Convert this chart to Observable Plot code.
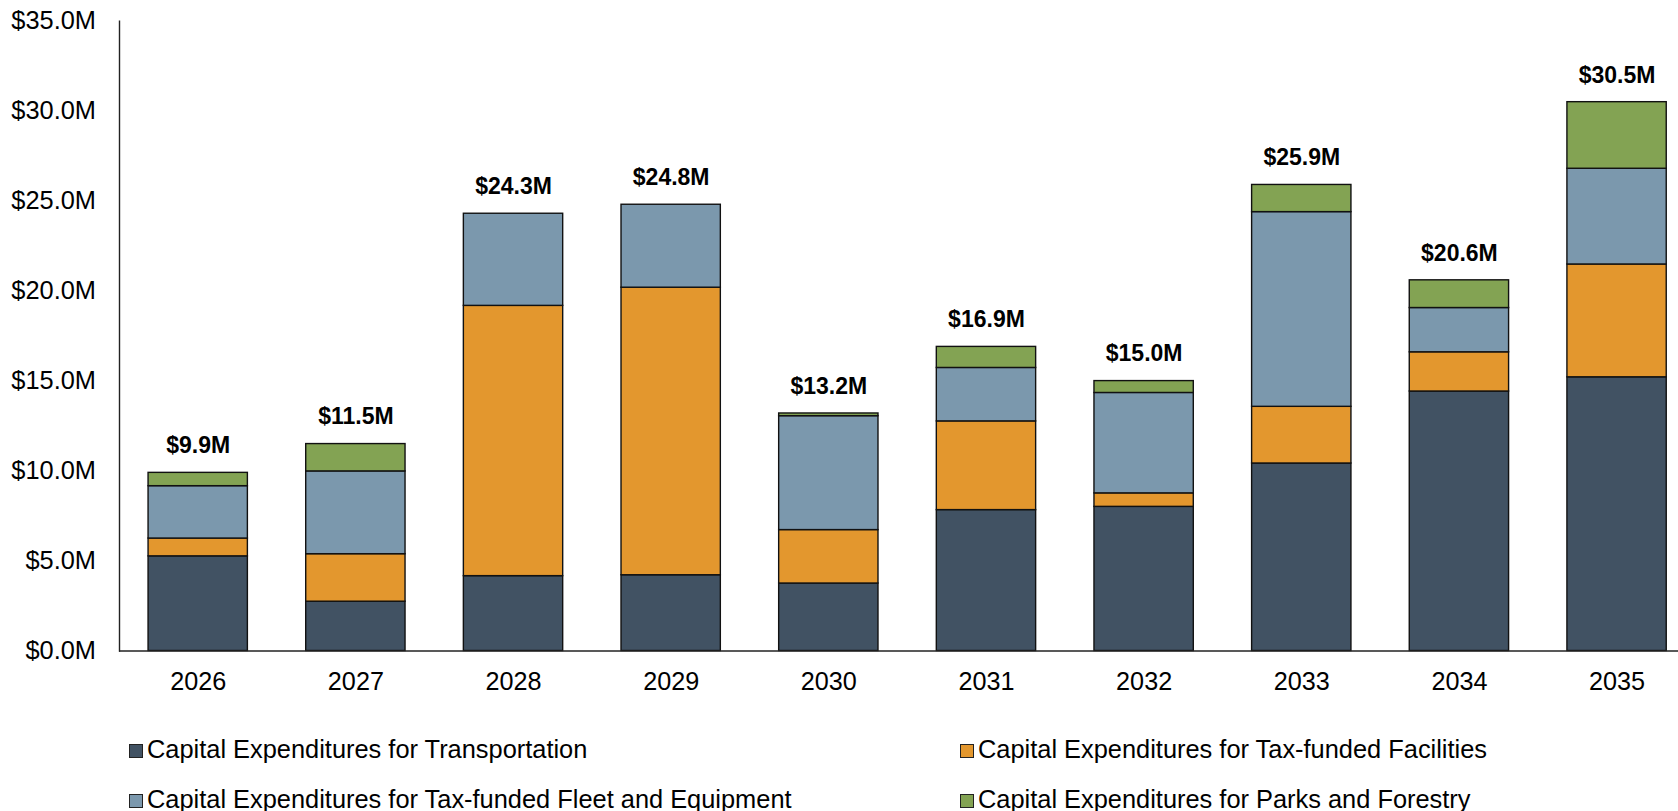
<!DOCTYPE html>
<html>
<head>
<meta charset="utf-8">
<script src="https://cdn.jsdelivr.net/npm/d3@7"></script>
<script src="https://cdn.jsdelivr.net/npm/@observablehq/plot@0.6"></script>
<style>
  html, body { margin: 0; padding: 0; background: #fff; }
  body { width: 1678px; height: 811px; overflow: hidden; font-family: Arial, "Liberation Sans", sans-serif; }
  #legend { display: grid; grid-template-columns: 831px 700px; padding-left: 129px; padding-top: 19px;
            font-size: 25.4px; line-height: 50px; color: #000; }
  #legend .item { white-space: nowrap; }
  #legend .sw { display: inline-block; width: 12px; height: 12px; border: 1px solid #222; margin-right: 4px; vertical-align: baseline; }
</style>
</head>
<body>
<div id="chart"></div>
<div id="legend"></div>
<script>
const years = ["2026","2027","2028","2029","2030","2031","2032","2033","2034","2035"];
const seriesNames = [
  "Capital Expenditures for Transportation",
  "Capital Expenditures for Tax-funded Facilities",
  "Capital Expenditures for Tax-funded Fleet and Equipment",
  "Capital Expenditures for Parks and Forestry"
];
const seriesColors = ["#415263", "#E3972E", "#7B98AD", "#83A353"];
// values in $M
const transportation = [5.26, 2.74, 4.16, 4.21, 3.75, 7.83, 8.01, 10.42, 14.42, 15.21];
const facilities     = [0.99, 2.64, 15.02, 15.98, 2.97, 4.93, 0.75, 3.15, 2.18, 6.27];
const fleet          = [2.91, 4.60, 5.12, 4.61, 6.33, 2.97, 5.58, 10.82, 2.46, 5.32];
const parks          = [0.74, 1.52, 0.00, 0.00, 0.15, 1.17, 0.66, 1.51, 1.54, 3.70];
const totals         = [9.9, 11.5, 24.3, 24.8, 13.2, 16.9, 15.0, 25.9, 20.6, 30.5];
const yTicks = [0, 5, 10, 15, 20, 25, 30, 35];

const seriesValues = [transportation, facilities, fleet, parks];
const table = [];
seriesNames.forEach((s, si) => {
  years.forEach((yr, i) => {
    if (seriesValues[si][i] > 0) table.push({year: yr, series: s, value: seriesValues[si][i]});
  });
});
const totalRows = years.map((yr, i) => ({year: yr, total: totals[i]}));
const fmt = d => `$${d.toFixed(1)}M`;

const chart = Plot.plot({
  width: 1678,
  height: 705,
  marginLeft: 119,
  marginRight: 0,
  marginTop: 20.7,
  marginBottom: 54.5,
  style: {fontFamily: "Arial, 'Liberation Sans', sans-serif", background: "#fff", color: "#000"},
  x: {domain: years, range: [118.9, 1695.4], paddingInner: 0.37, paddingOuter: 0.185, round: false},
  y: {domain: [0, 35]},
  color: {domain: seriesNames, range: seriesColors},
  marks: [
    Plot.barY(table, {x: "year", y: "value", fill: "series", stroke: "#111", strokeWidth: 1.4}),
    Plot.frame({anchor: "left", stroke: "#222", strokeWidth: 1.4}),
    Plot.ruleY([0], {stroke: "#222", strokeWidth: 1.4}),
    Plot.axisY({ticks: yTicks, tickFormat: fmt, tickSize: 0, tickPadding: 23.5, fontSize: 25.4, label: null}),
    Plot.axisX({tickSize: 0, tickPadding: 21, fontSize: 25.2, label: null}),
    Plot.text(totalRows, {x: "year", y: "total", text: d => fmt(d.total), dy: -27, fontSize: 23, fontWeight: "bold", fill: "#000"})
  ]
});
document.getElementById("chart").appendChild(chart);

const legend = d3.select("#legend");
seriesNames.forEach((s, i) => {
  const item = legend.append("div").attr("class", "item");
  item.append("span").attr("class", "sw").style("background", seriesColors[i]);
  item.append("span").text(s);
});
</script>
</body>
</html>
